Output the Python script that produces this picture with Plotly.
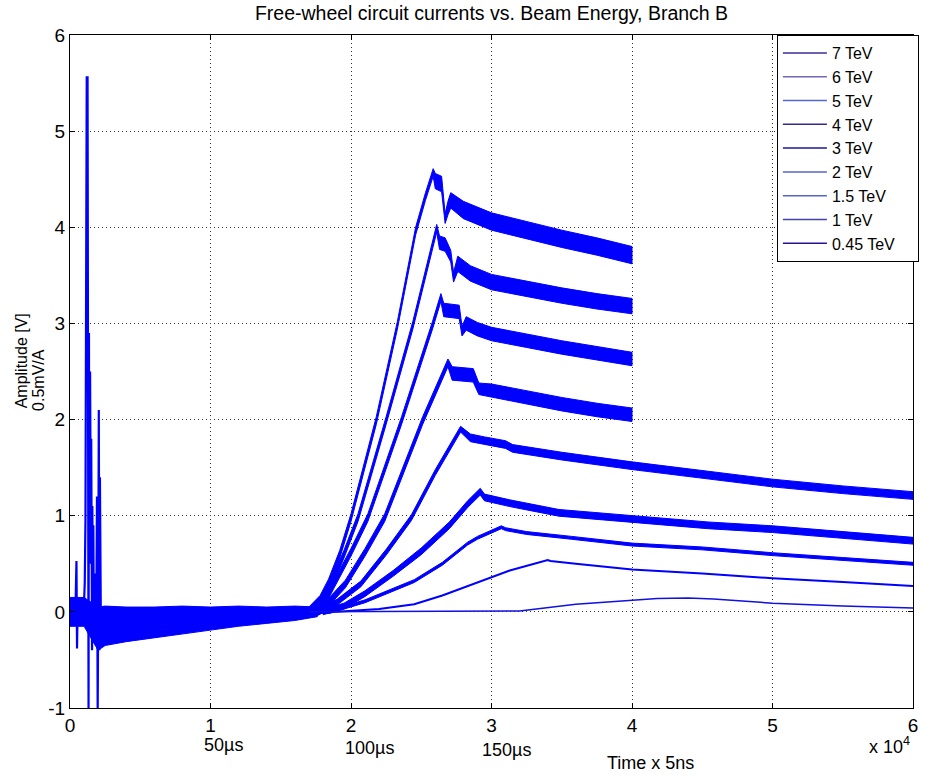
import plotly.graph_objects as go

# ---------------- data (x in units of 1e4 samples) ----------------
x_ticks = [0, 1, 2, 3, 4, 5, 6]
x_tick_text = ["0", "1", "2", "3", "4", "5", "6"]
y_ticks = [-1, 0, 1, 2, 3, 4, 5, 6]
y_tick_text = ["-1", "0", "1", "2", "3", "4", "5", "6"]

names = ["7 TeV", "6 TeV", "5 TeV", "4 TeV", "3 TeV", "2 TeV", "1.5 TeV", "1 TeV", "0.45 TeV"]
legend_colors = ["#3A2E96", "#7466B6", "#5664CE", "#36288E", "#18189C",
                 "#5866C8", "#5464CC", "#4242B0", "#2A0E96"]

# shared noisy baseline (all energies overlap here)
base_x = [0.00, 0.10, 0.20, 0.25, 0.40, 0.60, 0.80, 1.00, 1.20, 1.40, 1.60, 1.76]
base_hi = [0.15, 0.15, 0.05, 0.06, 0.05, 0.05, 0.06, 0.05, 0.06, 0.05, 0.06, 0.05]
base_lo = [-0.15, -0.15, -0.40, -0.35, -0.31, -0.27, -0.23, -0.19, -0.15, -0.12, -0.09, -0.05]

# initial switching transient
spike_x = [0.000, 0.010, 0.020, 0.030, 0.040, 0.046, 0.050, 0.055, 0.065, 0.080, 0.095, 0.105,
           0.110, 0.114, 0.119, 0.125, 0.127, 0.129, 0.132, 0.135, 0.137, 0.139, 0.141, 0.143,
           0.145, 0.147, 0.149, 0.151, 0.153, 0.155, 0.157, 0.159, 0.162, 0.166, 0.170, 0.175,
           0.180, 0.186, 0.192, 0.197, 0.201, 0.205, 0.209, 0.213, 0.220]
spike_y = [0.05, -0.15, 0.12, -0.10, 0.10, 0.53, -0.38, 0.15, -0.05, 0.12, -0.10, 0.30,
           0.95, 2.85, 5.56, 5.56, 3.20, 0.40, -1.05, 2.90, 0.60, 2.80, 0.80, 2.50,
           0.60, 2.20, 0.50, 1.80, 0.40, 1.50, -0.40, 1.10, -0.20, 0.90, -0.20, 0.40,
           0.10, -0.30, 1.20, -1.05, 0.10, 2.10, -0.40, 1.40, -0.20]

# 7 TeV
e7_x = [1.70, 1.78, 1.84, 1.92, 2.00, 2.18, 2.33, 2.46, 2.53, 2.585, 2.60, 2.645, 2.67, 2.69, 2.71, 2.80, 3.00, 3.25, 3.50, 3.75, 4.00]
e7_y = [0.00, 0.12, 0.29, 0.60, 0.98, 1.99, 2.98, 3.96, 4.32, 4.57, 4.48, 4.45, 4.09, 4.20, 4.28, 4.18, 4.06, 3.97, 3.88, 3.80, 3.71]
e7_n = [0.05, 0.05, 0.05, 0.04, 0.04, 0.04, 0.04, 0.04, 0.04, 0.04, 0.08, 0.08, 0.05, 0.07, 0.08, 0.09, 0.09, 0.09, 0.09, 0.09, 0.09]
# 6 TeV
e6_x = [1.72, 1.80, 1.86, 1.95, 2.05, 2.25, 2.44, 2.61, 2.63, 2.67, 2.71, 2.73, 2.76, 2.85, 3.00, 3.25, 3.50, 3.75, 4.00]
e6_y = [0.00, 0.10, 0.29, 0.60, 0.98, 1.99, 2.98, 3.99, 3.84, 3.82, 3.70, 3.48, 3.62, 3.52, 3.43, 3.36, 3.29, 3.23, 3.18]
e6_n = [0.05, 0.05, 0.05, 0.04, 0.04, 0.04, 0.04, 0.04, 0.07, 0.07, 0.06, 0.05, 0.08, 0.08, 0.08, 0.08, 0.08, 0.08, 0.08]
# 5 TeV
e5_x = [1.73, 1.80, 1.88, 2.00, 2.12, 2.36, 2.58, 2.64, 2.66, 2.77, 2.79, 2.82, 2.90, 3.00, 3.25, 3.50, 3.75, 4.00]
e5_y = [0.00, 0.08, 0.29, 0.62, 0.98, 1.99, 2.98, 3.27, 3.14, 3.12, 2.92, 3.00, 2.94, 2.89, 2.82, 2.75, 2.69, 2.63]
e5_n = [0.05, 0.05, 0.04, 0.04, 0.04, 0.04, 0.04, 0.04, 0.07, 0.07, 0.05, 0.07, 0.07, 0.07, 0.07, 0.07, 0.07, 0.07]
# 4 TeV
e4_x = [1.74, 1.84, 1.96, 2.10, 2.24, 2.51, 2.69, 2.72, 2.87, 2.91, 3.00, 3.25, 3.50, 3.75, 4.00]
e4_y = [0.00, 0.10, 0.29, 0.62, 0.98, 1.99, 2.59, 2.48, 2.46, 2.32, 2.30, 2.23, 2.16, 2.10, 2.05]
e4_n = [0.05, 0.04, 0.04, 0.04, 0.04, 0.04, 0.04, 0.07, 0.07, 0.06, 0.07, 0.07, 0.07, 0.07, 0.07]
# 3 TeV
e3_x = [1.76, 1.90, 2.07, 2.25, 2.43, 2.60, 2.78, 2.85, 2.95, 3.10, 3.15, 3.50, 4.00, 4.50, 5.00, 5.50, 6.00]
e3_y = [0.00, 0.10, 0.29, 0.62, 0.98, 1.45, 1.90, 1.81, 1.78, 1.74, 1.70, 1.62, 1.52, 1.43, 1.34, 1.27, 1.21]
e3_n = [0.04, 0.03, 0.03, 0.03, 0.03, 0.03, 0.03, 0.04, 0.04, 0.04, 0.04, 0.04, 0.04, 0.04, 0.04, 0.04, 0.04]
# 2 TeV
e2_x = [1.80, 1.95, 2.10, 2.30, 2.50, 2.70, 2.83, 2.92, 2.95, 3.13, 3.48, 4.00, 4.54, 5.00, 5.50, 6.00]
e2_y = [0.00, 0.06, 0.19, 0.40, 0.63, 0.90, 1.12, 1.25, 1.19, 1.13, 1.03, 0.97, 0.90, 0.86, 0.80, 0.74]
e2_n = [0.03, 0.03, 0.03, 0.03, 0.035, 0.035, 0.035, 0.035, 0.035, 0.035, 0.035, 0.035, 0.035, 0.035, 0.035, 0.035]
# 1.5 TeV
e15_x = [1.70, 1.85, 2.10, 2.45, 2.65, 2.83, 2.90, 3.07, 3.10, 3.25, 3.57, 4.00, 4.50, 5.00, 5.50, 6.00]
e15_y = [0.00, 0.00, 0.11, 0.32, 0.50, 0.71, 0.77, 0.88, 0.86, 0.82, 0.77, 0.70, 0.66, 0.60, 0.55, 0.50]
e15_n = [0.015] * 16
# 1 TeV
e1_x = [1.70, 1.90, 2.20, 2.45, 2.65, 2.83, 2.90, 3.13, 3.40, 3.42, 3.60, 4.00, 4.50, 5.00, 5.50, 6.00]
e1_y = [0.00, 0.00, 0.03, 0.08, 0.17, 0.27, 0.31, 0.43, 0.54, 0.53, 0.50, 0.44, 0.40, 0.35, 0.31, 0.27]
# 0.45 TeV
e045_x = [1.70, 2.90, 3.20, 3.60, 4.00, 4.18, 4.40, 4.58, 5.00, 5.50, 6.00]
e045_y = [0.00, 0.005, 0.01, 0.08, 0.125, 0.14, 0.145, 0.135, 0.09, 0.06, 0.04]

BLUE = "#0000FF"
FONT = "Liberation Sans, Arial, Helvetica, sans-serif"
NBSP = "\u00a0"

fig = go.Figure()


def add_band(xs, lo, hi):
    fig.add_trace(go.Scatter(
        x=list(xs) + list(xs)[::-1], y=list(hi) + list(lo)[::-1],
        mode="lines", fill="toself", fillcolor=BLUE,
        line=dict(color=BLUE, width=1), showlegend=False, hoverinfo="skip"))


def add_noisy(xs, ys, ns):
    add_band(xs, [y - n for y, n in zip(ys, ns)], [y + n for y, n in zip(ys, ns)])


add_band(base_x, base_lo, base_hi)
fig.add_trace(go.Scatter(x=spike_x, y=spike_y, mode="lines",
                         line=dict(color=BLUE, width=2.2), showlegend=False, hoverinfo="skip"))
for xs, ys, ns in [(e7_x, e7_y, e7_n), (e6_x, e6_y, e6_n), (e5_x, e5_y, e5_n),
                   (e4_x, e4_y, e4_n), (e3_x, e3_y, e3_n), (e2_x, e2_y, e2_n),
                   (e15_x, e15_y, e15_n)]:
    add_noisy(xs, ys, ns)
fig.add_trace(go.Scatter(x=e1_x, y=e1_y, mode="lines", line=dict(color=BLUE, width=2),
                         showlegend=False, hoverinfo="skip"))
fig.add_trace(go.Scatter(x=e045_x, y=e045_y, mode="lines", line=dict(color="#1010E0", width=1.5),
                         showlegend=False, hoverinfo="skip"))

# legend entries
for name, col in zip(names, legend_colors):
    label = name + (NBSP * 4 if name == names[-1] else "")
    fig.add_trace(go.Scatter(x=[None], y=[None], mode="lines", name=label,
                             line=dict(color=col, width=1.5)))

axis_common = dict(
    showline=True, linecolor="black", linewidth=1, mirror="ticks",
    ticks="inside", ticklen=5, tickcolor="black", tickwidth=1,
    showgrid=True, gridcolor="#333333", gridwidth=1, griddash="1px,3px",
    zeroline=False, tickfont=dict(family=FONT, size=19, color="black"),
)

fig.update_layout(
    width=927, height=777,
    margin=dict(l=70, r=8, t=35, b=69),
    paper_bgcolor="white", plot_bgcolor="white",
    font=dict(family=FONT, color="black"),
    title=dict(text="Free-wheel circuit currents vs. Beam Energy, Branch B",
               x=0.5, xref="paper", y=1 - 13 / 777, yref="container",
               xanchor="center", yanchor="middle",
               font=dict(family=FONT, size=19.5, color="black")),
    xaxis=dict(range=[0, 6], tickvals=x_ticks, ticktext=x_tick_text, **axis_common),
    yaxis=dict(range=[-1, 6], tickvals=y_ticks, ticktext=y_tick_text, **axis_common),
    legend=dict(x=1.007, y=1, xanchor="right", yanchor="top",
                bgcolor="white", bordercolor="black", borderwidth=1,
                font=dict(family=FONT, size=16, color="black"),
                itemwidth=44, tracegroupgap=0),
    showlegend=True,
)

annots = [
    dict(text="50µs", x=1.095, y=-0.055),
    dict(text="100µs", x=2.13, y=-0.059),
    dict(text="150µs", x=3.11, y=-0.062),
    dict(text="Time x 5ns", x=4.13, y=-0.082),
    dict(text="x 10<sup>4</sup>", x=5.83, y=-0.055),
]
for a in annots:
    fig.add_annotation(text=a["text"], x=a["x"], y=a["y"], xref="x", yref="paper",
                       showarrow=False, xanchor="center", yanchor="middle",
                       font=dict(family=FONT, size=18, color="black"))

fig.add_annotation(text="Amplitude [V]", x=-0.0577, y=0.5156, xref="paper", yref="paper",
                   showarrow=False, textangle=-90, xanchor="center", yanchor="middle",
                   font=dict(family=FONT, size=16, color="black"))
fig.add_annotation(text="0.5mV/A", x=-0.0372, y=0.487, xref="paper", yref="paper",
                   showarrow=False, textangle=-90, xanchor="center", yanchor="middle",
                   font=dict(family=FONT, size=16, color="black"))

fig.write_html("out.html")
